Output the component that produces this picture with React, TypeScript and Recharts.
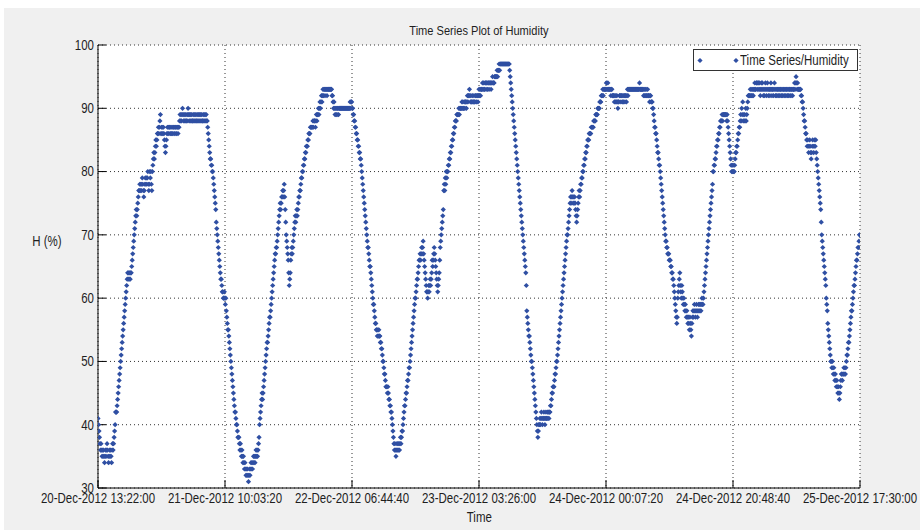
import { ScatterChart, Scatter, XAxis, YAxis, CartesianGrid } from "recharts";

// relative humidity logger, readings in %, one entry per sample in recording order
const HUMIDITY_DEC20 = [
  41, 40, 39, 38, 37, 36, 37, 36, 35, 36, 35, 36, 35, 34, 35, 36, 35, 36, 37, 36,
  35, 34, 35, 36, 35, 36, 35, 34, 36, 37, 36, 37, 38, 39, 40, 42, 42, 42, 43, 44,
  45, 46, 47,
  48, 49, 50, 51, 52, 53, 54, 55, 56, 57, 58, 59, 60, 61, 62, 63, 64, 63, 64, 63,
  64, 63, 64, 64, 65, 66, 67, 68, 69, 70, 71, 72, 73, 74, 73,
  74, 75, 76, 77, 77, 78, 77, 78, 77, 78, 79, 78, 77, 76, 77, 78, 79, 78, 79, 78,
  79, 80, 78, 77, 78, 80, 79, 80, 78, 77, 80,
  81, 82, 83, 82, 83, 84, 85, 84, 85, 86, 86, 87, 86, 87, 88, 89,
];

const HUMIDITY_DEC21 = [
  86, 87, 86, 87, 86, 87, 86, 85, 84, 83, 84, 85, 86, 87, 86, 87, 86, 87, 87, 86,
  87, 86, 87, 86, 87, 87, 86, 87, 86, 87, 87, 86, 87, 87, 86, 87, 87, 88, 89,
  88, 89, 88, 89, 90, 89, 88, 89, 88, 89, 88, 89, 88, 88, 89, 90, 89, 88, 89, 88,
  89, 88, 89, 88, 88, 89, 88, 89, 88, 89, 88, 89, 88, 88, 89, 88, 89, 88, 89, 88,
  89, 88, 89, 88, 88, 89, 88, 89, 88, 89, 88, 89, 88, 88, 87,
  86, 85, 84, 83, 82, 82, 81, 81, 80, 80, 79, 78, 77, 76, 75, 74, 72, 71,
  70, 69, 68, 67, 66, 65, 64, 63, 63, 62, 61, 61, 60, 60, 61, 60, 59, 60,
  58, 57, 56, 55, 55, 54, 53, 52, 51, 50, 49, 48, 47, 46, 45, 44, 43, 42, 42, 41,
  40, 40, 39, 38, 38, 38,
  37, 36, 37, 36, 35, 36, 35, 34, 35, 34, 33, 34, 33, 32, 33, 32, 33, 32, 31, 32,
  33, 32, 33, 34, 33, 34, 33, 34, 35, 34, 35, 34, 35, 36, 35, 36, 35, 36, 37, 38,
  40,
  41, 42, 43, 44, 45, 44, 45, 46, 47, 48, 49, 50, 51, 52, 53, 53, 54, 55, 56, 57,
  57, 58, 59, 60, 61, 62, 63, 64, 65, 66, 67, 67, 68, 68, 69, 70, 71, 72, 73, 74,
  75, 74, 75, 76, 76, 77, 76, 77, 78,
  76, 74, 72, 70, 69, 68, 67, 66, 64, 62,
  63, 64, 66, 67, 68, 67, 68, 69, 70, 71, 72, 73, 72, 73, 74, 73, 74, 75,
  76, 76, 77, 77, 78, 79, 79, 80, 80, 81, 81, 82, 82, 83, 83, 84, 84, 84,
];

const HUMIDITY_DEC22 = [
  85, 85, 86, 86, 86, 87, 87, 87, 87, 87, 88, 87, 88, 88, 88, 87, 88, 89, 88, 89,
  89, 90, 89, 90, 91, 90,
  91, 92, 91, 92, 93, 92, 93, 93, 92, 93, 93, 93, 92, 93, 93, 93, 93, 93, 93, 93,
  93, 93, 92, 92, 91,
  90, 91, 90, 89, 90, 89, 90, 89, 90, 90, 89, 90, 90, 90, 90, 90, 90, 90, 90, 90,
  90, 90, 90, 90, 90, 90, 90, 90, 90, 90, 90, 90, 90, 91, 90, 91, 91,
  90, 90, 89, 89, 88, 88, 87, 87, 86, 86, 85, 85, 84, 84, 83, 83, 82, 82, 81, 80,
  79, 78, 77, 76, 75, 74, 73, 72, 71, 70, 69, 68, 68, 67, 66, 65, 65, 64, 63, 62,
  61, 60, 59, 59, 58, 57, 56, 56, 55, 55, 54, 55, 54, 55, 54, 54, 53, 53,
  52, 52, 51, 50, 50, 49, 48, 48, 47, 46, 46, 46, 45, 46, 45, 44, 44, 43, 43, 42,
  42, 41, 40, 39,
  38, 37, 36, 37, 36, 35, 36, 37, 36, 37, 36, 37, 36, 37, 38, 37, 38, 39, 39, 40,
  41, 42, 43, 43, 44, 45, 45, 46, 47, 47, 48, 49, 49, 50, 51, 52, 53, 54, 55, 56,
  57, 58, 59, 60,
  60, 61, 62, 63, 63, 64, 65, 66, 66, 67, 66, 67, 68, 67, 68, 69,
  67, 66, 65, 64, 63, 62, 61, 61, 60, 61, 62, 61, 62, 63, 62, 63,
  64, 66, 65, 66, 67, 68, 67, 66, 65, 64, 63, 62, 61, 62, 63, 64, 66, 68,
  69, 70, 71, 72, 73, 74, 77, 78, 77, 79, 78, 80, 79, 80, 80, 81,
  81, 82, 82, 83, 83, 84, 84, 85, 85, 86, 86, 87, 87, 88,
];

const HUMIDITY_DEC23 = [
  88, 88, 89, 89, 89, 89, 90, 89, 90, 90,
  90, 90, 91, 90, 91, 90, 90, 91, 90, 91, 91, 90, 91, 92, 91, 92,
  92, 93, 92, 91, 92, 91, 91, 92, 91, 91, 92, 91, 91, 92, 92, 91, 92, 92, 91, 92,
  93, 92, 93, 92, 93, 93,
  93, 94, 93, 94, 93, 93, 94, 94, 93, 94, 94, 93, 94, 94, 93, 94, 94, 94, 93, 94,
  94, 95, 94, 94, 94, 95, 95, 95,
  95, 95, 96, 95, 96, 96, 97, 96, 97, 97,
  97, 97, 97, 97, 97, 97, 97, 97, 97, 97, 97, 97, 97, 97, 97, 97,
  97, 96, 95, 94, 93, 92, 91, 90, 89, 88, 87, 86, 85, 84, 83, 82, 81, 80, 79, 78,
  77, 76, 75, 74, 73, 72, 71, 70, 69, 68, 67, 66, 65, 64, 62,
  58, 57, 56, 55, 54, 54, 53, 52, 51, 50, 50, 49, 48, 47, 46, 45, 44, 43,
  42, 41, 40, 39, 38, 39, 40, 40, 41, 40, 41, 42, 41, 40, 41, 41, 42, 41, 40, 41,
  42, 41, 41, 42, 41, 42, 41, 42, 42, 43, 43, 44, 45, 45, 46, 46,
  46, 47, 48, 48, 49, 50, 50, 51, 52, 53, 54, 55, 56, 57, 58, 59, 60, 61, 62, 63,
  64, 65, 66, 67, 68, 69, 70,
  70, 71, 72, 73, 74, 75, 76, 75, 76, 77, 76, 75, 76, 75, 76, 75, 74, 73, 72, 73,
  74, 75,
  76, 77, 76, 77, 78, 78, 79, 79, 80, 80, 81, 81, 82, 82, 83, 83, 84, 84, 85, 85,
  85, 86, 86, 86, 86, 87, 87, 87, 87, 87, 88, 88, 88, 88, 89, 89, 89, 89, 90, 90,
  90, 90, 91, 91, 91, 92, 92, 92, 93, 92, 93, 93,
];

const HUMIDITY_DEC24 = [
  93, 93, 93, 94, 93, 93, 94, 93, 93, 93, 93, 93, 92, 93, 93, 92,
  92, 92, 92, 91, 92, 91, 92, 91, 92, 91, 90, 91, 91, 92,
  92, 92, 91, 92, 92, 91, 92, 91, 92, 92, 91, 92, 92, 91, 92, 93, 92, 93, 93, 93,
  93, 93, 93, 93, 93, 93, 93, 93, 93, 93, 93, 93, 93, 93, 93, 93, 93, 93, 93, 94,
  93, 93, 93, 93, 93, 93,
  93, 92, 93, 92, 93, 92, 93, 92, 92, 93, 92, 92, 92, 91, 92, 92, 91, 91,
  91, 90, 90, 89,
  88, 87, 87, 86, 86, 85, 84, 83, 83, 82, 81, 81, 80, 79, 78, 77, 76, 75, 74, 73,
  72, 71,
  70, 69, 69, 68, 68, 67, 67, 67, 66, 66, 66, 65, 65, 64, 64, 63, 63, 62, 61, 60,
  59, 58, 57, 56, 57, 60, 61, 62, 63, 64, 62, 61, 60, 62, 61, 60,
  59, 60, 59, 58, 59, 58, 57, 58, 57, 56, 57, 56, 55, 57, 56, 55, 54, 56, 57, 58,
  57, 58, 59, 58, 57, 58, 59, 58, 57, 58, 59, 58, 59, 58, 59, 58, 59, 60, 59, 59,
  60, 61, 62, 63, 64, 65, 66, 67, 68, 69, 70, 71, 72, 73, 74, 75, 76, 77, 78, 80,
  80, 81, 81, 82, 82, 83, 84, 84, 85, 85, 86, 86, 87, 87, 88, 88,
  88, 89, 88, 89, 89, 89, 89, 89, 89, 89, 88, 89, 88, 87,
  86, 85, 84, 83, 82, 81, 80, 81, 80, 81, 80, 80,
  81, 82, 83, 83, 84, 84, 85, 86, 86, 87, 87, 88,
  89, 88, 90, 89, 91, 88, 89, 88, 89, 88, 90, 88, 89, 90, 91, 92,
  92, 92, 92, 93, 92, 92, 93, 92, 93, 92, 93, 93, 94, 93, 93, 94,
];

const HUMIDITY_DEC25 = [
  94, 93, 94, 94, 93, 94, 93, 92, 93, 94, 93, 94, 93, 92, 93, 92, 93, 94, 93, 92,
  93, 94, 93, 92, 93, 93, 92, 93, 94, 93, 92, 93, 93, 92, 93, 94, 93, 92,
  93, 92, 93, 93, 92, 93, 92, 93, 92, 93, 93, 92, 93, 92, 93, 93, 92, 93, 92, 93,
  92, 93, 93, 92, 93, 92, 93, 93, 92, 93, 92, 93, 93, 92, 93, 93,
  93, 94, 93, 94, 95, 94, 93, 94, 93, 93, 93, 93, 93, 93, 92, 92,
  91, 91, 90, 89, 88, 88, 87, 86, 86, 85,
  84, 85, 84, 83, 84, 85, 84, 83, 82, 83, 84, 85, 84, 83, 84, 85, 84, 85, 83, 82,
  81, 80, 79, 78, 77, 76, 75, 74, 72, 70,
  69, 68, 67, 66, 65, 64, 63, 62, 60, 59, 58, 56,
  55, 54, 53, 52, 51, 50, 50, 49, 50, 49, 48, 49,
  48, 47, 48, 47, 46, 47, 46, 45, 46, 45, 44, 45,
  46, 47, 48, 48, 47, 48, 48, 49, 48, 49, 48, 49,
  50, 51, 51, 52, 53, 53, 54, 55, 56, 57, 58, 58, 59, 60, 61, 62, 62, 63, 64, 65,
  66, 66, 67, 68, 68, 69, 70, 70,
];

// logging window (UTC) and the date ticks along it
const FIRST_READING = Date.UTC(2012, 11, 20, 13, 22, 0);
const LAST_READING = Date.UTC(2012, 11, 25, 17, 30, 0);
const X_TICKS = [
  Date.UTC(2012, 11, 20, 13, 22, 0),
  Date.UTC(2012, 11, 21, 10, 3, 20),
  Date.UTC(2012, 11, 22, 6, 44, 40),
  Date.UTC(2012, 11, 23, 3, 26, 0),
  Date.UTC(2012, 11, 24, 0, 7, 20),
  Date.UTC(2012, 11, 24, 20, 48, 40),
  Date.UTC(2012, 11, 25, 17, 30, 0),
];
const Y_TICKS = [30, 40, 50, 60, 70, 80, 90, 100];

const readings = [
  ...HUMIDITY_DEC20,
  ...HUMIDITY_DEC21,
  ...HUMIDITY_DEC22,
  ...HUMIDITY_DEC23,
  ...HUMIDITY_DEC24,
  ...HUMIDITY_DEC25,
];
// samples are evenly spaced across the logging window
const sampleStep = (LAST_READING - FIRST_READING) / (readings.length - 1);
const data = readings.map((h, i) => ({ t: FIRST_READING + i * sampleStep, h }));

const BLUE = "#2f4fa3";
const FONT = "'Liberation Sans', Arial, sans-serif";
const SQUEEZE = 0.82; // narrow lettering, like the MATLAB figure font
const INK = "#1e1e1e";
const MONTHS = ["Jan", "Feb", "Mar", "Apr", "May", "Jun", "Jul", "Aug", "Sep", "Oct", "Nov", "Dec"];

const pad = (n: number) => String(n).padStart(2, "0");
function fmtTime(ms: number) {
  const d = new Date(ms);
  return `${pad(d.getUTCDate())}-${MONTHS[d.getUTCMonth()]}-${d.getUTCFullYear()} ` +
    `${pad(d.getUTCHours())}:${pad(d.getUTCMinutes())}:${pad(d.getUTCSeconds())}`;
}

function Diamond({ cx, cy }: any) {
  if (cx == null || cy == null) return null;
  const r = 2.6;
  return <path d={`M${cx},${cy - r}L${cx + r},${cy}L${cx},${cy + r}L${cx - r},${cy}Z`} fill={BLUE} />;
}

function TimeTick({ x, y, payload }: any) {
  return (
    <g transform={`translate(${x},${y}) scale(${SQUEEZE},1)`}>
      <text textAnchor="middle" dy="0.71em" fontSize={14} fontFamily={FONT} fill={INK}>
        {fmtTime(payload.value)}
      </text>
    </g>
  );
}

function HumidityTick({ x, y, payload }: any) {
  return (
    <g transform={`translate(${x},${y}) scale(${SQUEEZE},1)`}>
      <text textAnchor="end" dy="0.35em" fontSize={14} fontFamily={FONT} fill={INK}>
        {payload.value}
      </text>
    </g>
  );
}

function Caption({ left, top, width, size = 14, children }: any) {
  return (
    <div style={{ position: "absolute", left, top, width, textAlign: "center", lineHeight: "16px" }}>
      <span style={{ display: "inline-block", transform: `scaleX(${SQUEEZE})`, fontFamily: FONT, fontSize: size, color: INK, whiteSpace: "nowrap" }}>
        {children}
      </span>
    </div>
  );
}

export default function App() {
  return (
    <div style={{ position: "absolute", left: 0, top: 0, width: 920, height: 530, background: "#fff", overflow: "hidden" }}>
      <div style={{ position: "absolute", left: 4, top: 8, right: 0, bottom: 0, background: "#f0f0f0" }} />

      <div style={{ position: "absolute", left: 0, top: 0 }}>
        <ScatterChart width={920} height={530} margin={{ top: 45, right: 60, bottom: 12, left: 38 }}>
          <CartesianGrid fill="#fff" stroke="#333" strokeDasharray="1 3" />
          <XAxis
            type="number"
            dataKey="t"
            domain={[FIRST_READING, LAST_READING]}
            allowDataOverflow
            ticks={X_TICKS}
            interval={0}
            tickSize={-8}
            tickMargin={13}
            height={30}
            stroke="#000"
            tick={<TimeTick />}
          />
          <XAxis
            xAxisId="top"
            orientation="top"
            type="number"
            domain={[FIRST_READING, LAST_READING]}
            allowDataOverflow
            ticks={X_TICKS}
            interval={0}
            tick={false}
            tickSize={-8}
            height={0}
            stroke="#000"
          />
          <YAxis
            type="number"
            dataKey="h"
            domain={[30, 100]}
            allowDataOverflow
            ticks={Y_TICKS}
            interval={0}
            tickSize={-8}
            tickMargin={12}
            width={60}
            stroke="#000"
            tick={<HumidityTick />}
          />
          <YAxis
            yAxisId="right"
            orientation="right"
            type="number"
            domain={[30, 100]}
            allowDataOverflow
            ticks={Y_TICKS}
            interval={0}
            tick={false}
            tickSize={-8}
            width={0}
            stroke="#000"
          />
          <Scatter data={data} fill={BLUE} shape={<Diamond />} isAnimationActive={false} />
        </ScatterChart>
      </div>

      <Caption left={379} top={22} width={200} size={13.5}>Time Series Plot of Humidity</Caption>
      <Caption left={429} top={509} width={100}>Time</Caption>
      <Caption left={17} top={233} width={60}>H (%)</Caption>

      <div style={{ position: "absolute", left: 693, top: 49, width: 163, height: 20, border: "1px solid #333", background: "#fff" }}>
        <svg width={50} height={20} style={{ position: "absolute", left: 0, top: 0 }}>
          <Diamond cx={6} cy={10.5} />
          <Diamond cx={42} cy={10.5} />
        </svg>
        <span style={{ position: "absolute", left: 46, top: 0, lineHeight: "21px", fontFamily: FONT, fontSize: 14, color: INK, whiteSpace: "nowrap", transform: `scaleX(${SQUEEZE})`, transformOrigin: "0 50%" }}>
          Time Series/Humidity
        </span>
      </div>
    </div>
  );
}
